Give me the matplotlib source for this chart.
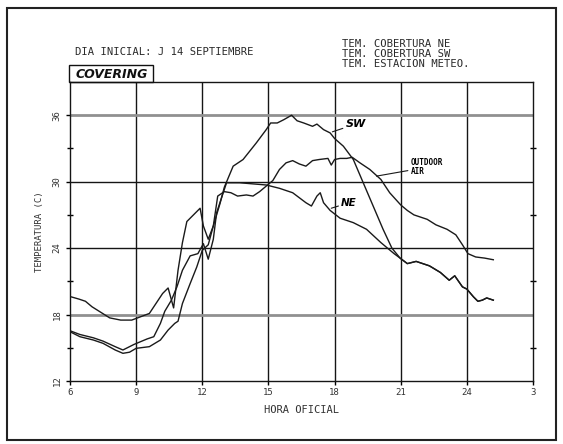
import matplotlib
matplotlib.use("Agg")
import matplotlib.pyplot as plt
from matplotlib.patches import Rectangle
import numpy as np

# ---- data (hour of day, temperature C) ----
oa_h = [6.05, 6.4, 6.7, 7.0, 7.4, 7.8, 8.3, 8.8, 9.2, 9.6, 9.9, 10.2, 10.45, 10.7, 10.9, 11.1, 11.3, 11.6,
        11.9, 12.05, 12.27, 12.5, 12.7, 13.0, 13.3, 13.6, 14.0, 14.3, 14.6, 14.9, 15.2, 15.5, 15.8, 16.1,
        16.4, 16.7, 17.0, 17.3, 17.7, 17.85, 18.0, 18.25, 18.55, 18.8, 19.15, 19.6, 20.1, 20.5, 21.0, 21.3,
        21.6, 22.2, 22.6, 23.1, 23.5, 23.8, 24.05, 24.4, 24.8, 25.2]
oa_t = [19.6, 19.4, 19.2, 18.7, 18.2, 17.7, 17.5, 17.5, 17.8, 18.1, 19.0, 19.9, 20.4, 18.6, 22.0, 24.5, 26.4, 27.0,
        27.6, 26.0, 24.8, 26.0, 28.7, 29.1, 29.0, 28.7, 28.8, 28.7, 29.1, 29.6, 30.1, 31.1, 31.7, 31.9,
        31.6, 31.4, 31.9, 32.0, 32.1, 31.5, 32.0, 32.1, 32.1, 32.2, 31.7, 31.1, 30.2, 29.0, 27.9, 27.4,
        27.0, 26.6, 26.1, 25.7, 25.2, 24.3, 23.5, 23.2, 23.1, 22.95]

sw_h = [6.05, 6.45, 7.06, 7.5, 8.05, 8.4, 8.7, 9.0, 9.6, 10.1, 10.45, 10.75, 10.9, 11.1, 11.45, 11.75, 12.0,
        12.27, 12.5, 12.8, 13.0, 13.4, 13.85, 14.45, 14.9, 15.1, 15.4, 15.7, 16.05, 16.3, 16.6, 17.0, 17.2,
        17.5, 17.8, 18.0, 18.4, 18.85, 19.3, 19.75, 20.2, 20.6, 20.97]
sw_t = [16.4, 16.0, 15.7, 15.4, 14.8, 14.5, 14.6, 14.95, 15.1, 15.7, 16.6, 17.2, 17.4, 19.0, 20.8, 22.3, 23.8,
        24.3, 26.0, 28.0, 29.5, 31.4, 32.0, 33.5, 34.7, 35.3, 35.3, 35.6, 36.0, 35.5, 35.3, 35.0, 35.2,
        34.7, 34.4, 33.9, 33.2, 32.0, 29.9, 27.8, 25.7, 24.0, 23.1]

ne_h = [6.05, 6.45, 7.06, 7.5, 8.05, 8.4, 8.9, 9.5, 9.8, 10.1, 10.3, 10.6, 10.85, 11.1, 11.45, 11.8, 12.05,
        12.27, 12.5, 12.65, 12.9, 13.1, 13.7, 14.3, 14.9, 15.5, 16.1, 16.7, 16.95, 17.2, 17.35, 17.5, 17.8,
        18.25, 18.85, 19.45, 20.1, 20.7, 20.97]
ne_t = [16.5, 16.2, 15.9, 15.6, 15.1, 14.8, 15.3, 15.8, 16.0, 17.2, 18.3, 19.3, 20.5, 22.0, 23.3, 23.5, 24.4,
        23.0, 24.8, 27.2, 28.7, 29.9, 29.9, 29.8, 29.7, 29.4, 29.0, 28.1, 27.8, 28.7, 29.0, 28.1, 27.4,
        26.7, 26.3, 25.7, 24.5, 23.5, 23.1]

# shared night tail of both covers (SW and NE overlap)
tail_h = [20.97, 21.3, 21.7, 22.3, 22.8, 23.2, 23.45, 23.8, 24.0, 24.3, 24.5, 24.7, 24.9, 25.2]
tail_t = [23.1, 22.6, 22.8, 22.4, 21.8, 21.1, 21.5, 20.5, 20.3, 19.6, 19.2, 19.3, 19.5, 19.3]

x_ticks = [6, 9, 12, 15, 18, 21, 24, 27]
x_labels = ['6', '9', '12', '15', '18', '21', '24', '3']
y_ticks = [12, 18, 24, 30, 36]
y_minor = [15, 21, 27, 33]

W, H = 563, 444
fig = plt.figure(figsize=(W / 100, H / 100), dpi=100)
fig.patch.set_facecolor('white')

L, R, T, B = 70, 533, 82, 381
ax = fig.add_axes([L / W, 1 - B / H, (R - L) / W, (B - T) / H])
ax.set_xlim(6, 27)
ax.set_ylim(12, 39)

mono = 'DejaVu Sans Mono'

# grid
for xv in x_ticks[1:-1]:
    ax.axvline(xv, color='#151515', lw=1.0, zorder=1)
for yv in y_ticks[1:]:
    if yv in (18, 36):
        ax.axhline(yv, color='#909090', lw=2.0, zorder=1)
    else:
        ax.axhline(yv, color='#151515', lw=1.0, zorder=1)

lc = '#1a1a1a'
ax.plot(oa_h, oa_t, color=lc, lw=1.0, zorder=3)
ax.plot(sw_h + tail_h, sw_t + tail_t, color=lc, lw=1.0, zorder=3)
ax.plot(ne_h + tail_h, ne_t + tail_t, color=lc, lw=1.0, zorder=3)

for s in ax.spines.values():
    s.set_color('#151515')
    s.set_linewidth(1.0)

ax.set_xticks(x_ticks)
ax.set_xticklabels(x_labels, fontfamily=mono, fontsize=6.5, color='#333333')
ax.set_yticks(y_ticks)
ax.set_yticklabels([str(v) for v in y_ticks], fontfamily=mono, fontsize=6.5, rotation=90, va='center',
                   color='#333333')
ax.set_yticks(y_minor, minor=True)
ax.tick_params(axis='x', direction='out', length=3, width=1, pad=2)
ax.tick_params(axis='y', which='major', direction='out', length=3, width=1, pad=3)
ax.tick_params(axis='y', which='minor', direction='inout', length=5, width=1, right=True)

ax.set_xlabel('HORA OFICIAL', fontfamily=mono, fontsize=7.5, labelpad=6, color='#333333')
ax.set_ylabel('TEMPERATURA (C)', fontfamily=mono, fontsize=6.5, labelpad=6, color='#333333')

# curve labels
ax.annotate('SW', xy=(17.9, 34.5), xytext=(18.5, 35.2), fontsize=8, fontstyle='italic',
            fontweight='bold', va='center', ha='left',
            arrowprops=dict(arrowstyle='-', lw=0.8, color=lc, shrinkA=0, shrinkB=0))
ax.annotate('OUTDOOR\nAIR', xy=(19.9, 30.5), xytext=(21.45, 31.3), fontsize=5.5, fontweight='bold',
            fontfamily=mono, va='center', ha='left', linespacing=1.0,
            arrowprops=dict(arrowstyle='-', lw=0.8, color=lc, shrinkA=0, shrinkB=0))
ax.annotate('NE', xy=(17.85, 27.6), xytext=(18.3, 28.1), fontsize=7.5, fontstyle='italic',
            fontweight='bold', va='center', ha='left',
            arrowprops=dict(arrowstyle='-', lw=0.8, color=lc, shrinkA=0, shrinkB=0))

# header texts
def ftext(x, y, s, **kw):
    fig.text(x / W, 1 - y / H, s, **kw)

ftext(75, 52, 'DIA INICIAL: J 14 SEPTIEMBRE', fontfamily=mono, fontsize=7.6, va='center', ha='left',
      color='#2a2a2a')
ftext(342, 44, 'TEM. COBERTURA NE', fontfamily=mono, fontsize=7.6, va='center', ha='left', color='#2a2a2a')
ftext(342, 54, 'TEM. COBERTURA SW', fontfamily=mono, fontsize=7.6, va='center', ha='left', color='#2a2a2a')
ftext(342, 64, 'TEM. ESTACION METEO.', fontfamily=mono, fontsize=7.6, va='center', ha='left', color='#2a2a2a')

# COVERING box
fig.add_artist(Rectangle((69 / W, 1 - 82 / H), (153 - 69) / W, (82 - 65) / H, transform=fig.transFigure,
                         fill=False, edgecolor='#111111', lw=1.0))
ftext(76, 74, 'COVERING', fontsize=9, fontstyle='italic', fontweight='bold', va='center', ha='left',
      color='#111111')

# outer frame
fig.add_artist(Rectangle((7 / W, 1 - 440 / H), (556 - 7) / W, (440 - 8) / H, transform=fig.transFigure,
                         fill=False, edgecolor='#222222', lw=1.5))

fig.savefig('out.png', dpi=100, facecolor='white')
